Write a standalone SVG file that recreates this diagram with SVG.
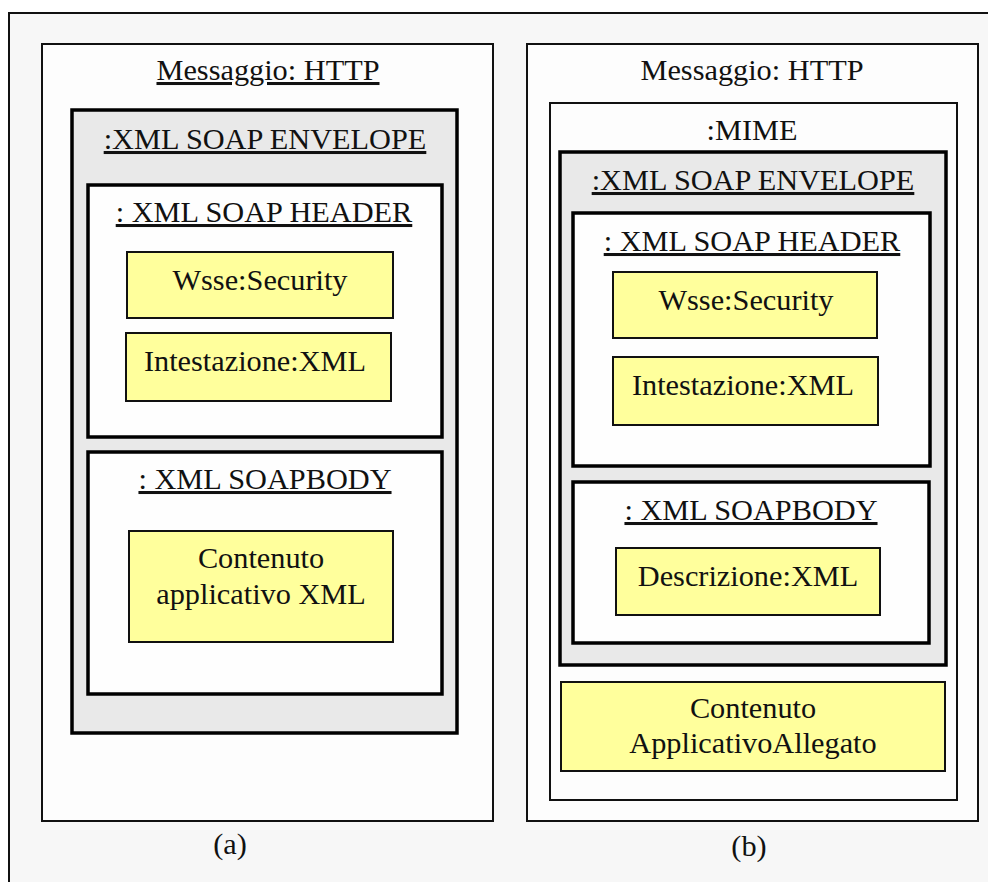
<svg xmlns="http://www.w3.org/2000/svg" width="988" height="882" viewBox="0 0 988 882">
  <style>
    .frame { fill: #f7f7f7; stroke: #111; stroke-width: 2; }
    .panel { fill: #fdfdfd; stroke: #111; stroke-width: 2; }
    .mime { fill: #fdfdfd; stroke: #111; stroke-width: 2; }
    .env { fill: #e9e9e9; stroke: #000; stroke-width: 3.5; }
    .part { fill: #fefefe; stroke: #000; stroke-width: 3.5; }
    .item { fill: #ffff9c; stroke: #111; stroke-width: 2; }
    text { font-family: 'Liberation Serif', Tinos, 'DejaVu Serif', serif; font-size: 30.3px; fill: #111; text-anchor: middle; }
    .u { text-decoration: underline; }
  </style>
  <rect width="988" height="882" fill="#ffffff"/>
  <rect class="frame" x="9" y="13" width="1000" height="900"/>

  <g id="panel-a">
    <rect class="panel" x="42" y="44" width="451" height="777"/>
    <text class="u" x="268" y="80">Messaggio: HTTP</text>
    <text x="230" y="854">(a)</text>
  </g>
  <g id="envelope-a">
    <rect class="env" x="72" y="110" width="385" height="623"/>
    <text class="u" x="265" y="149">:XML SOAP ENVELOPE</text>
  </g>
  <g id="header-a">
    <rect class="part" x="88" y="185" width="354" height="252"/>
    <text class="u" x="264" y="222">: XML SOAP HEADER</text>
  </g>
  <g id="security-a">
    <rect class="item" x="127" y="252" width="266" height="66"/>
    <text x="260" y="290">Wsse:Security</text>
  </g>
  <g id="intestazione-a">
    <rect class="item" x="126" y="333" width="265" height="68"/>
    <text x="255" y="371">Intestazione:XML</text>
  </g>
  <g id="body-a">
    <rect class="part" x="88" y="452" width="354" height="242"/>
    <text class="u" x="265" y="489">: XML SOAPBODY</text>
  </g>
  <g id="contenuto-a">
    <rect class="item" x="129" y="531" width="264" height="111"/>
    <text x="261" y="568">Contenuto</text>
    <text x="261" y="604">applicativo XML</text>
  </g>

  <g id="panel-b">
    <rect class="panel" x="527" y="44" width="451" height="777"/>
    <text x="752" y="80">Messaggio: HTTP</text>
    <text x="749" y="856">(b)</text>
  </g>
  <g id="mime-b">
    <rect class="mime" x="550" y="103" width="407" height="697"/>
    <text x="752" y="140">:MIME</text>
  </g>
  <g id="envelope-b">
    <rect class="env" x="560" y="152" width="386" height="513"/>
    <text class="u" x="753" y="190">:XML SOAP ENVELOPE</text>
  </g>
  <g id="header-b">
    <rect class="part" x="573" y="213" width="357" height="253"/>
    <text class="u" x="752" y="251">: XML SOAP HEADER</text>
  </g>
  <g id="security-b">
    <rect class="item" x="613" y="272" width="264" height="66"/>
    <text x="746" y="310">Wsse:Security</text>
  </g>
  <g id="intestazione-b">
    <rect class="item" x="613" y="357" width="265" height="68"/>
    <text x="743" y="395">Intestazione:XML</text>
  </g>
  <g id="body-b">
    <rect class="part" x="573" y="482" width="356" height="161"/>
    <text class="u" x="751" y="520">: XML SOAPBODY</text>
  </g>
  <g id="descrizione-b">
    <rect class="item" x="616" y="548" width="264" height="67"/>
    <text x="748" y="586">Descrizione:XML</text>
  </g>
  <g id="allegato-b">
    <rect class="item" x="561" y="682" width="384" height="89"/>
    <text x="753" y="718">Contenuto</text>
    <text x="753" y="753">ApplicativoAllegato</text>
  </g>

  <g id="connectors"></g>
</svg>
